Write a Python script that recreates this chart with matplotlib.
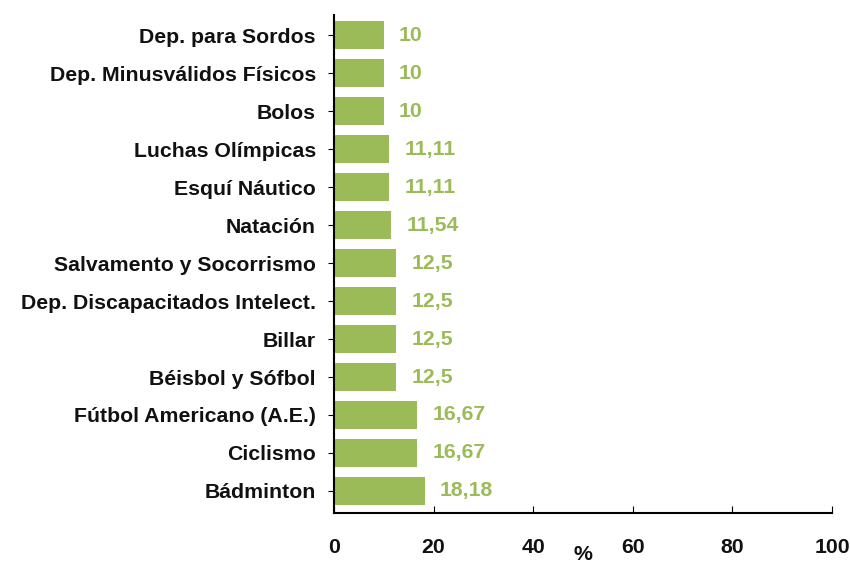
import matplotlib
matplotlib.use("Agg")
import matplotlib.pyplot as plt

categories = ["Bádminton", "Ciclismo", "Fútbol Americano (A.E.)", "Béisbol y Sófbol",
              "Billar", "Dep. Discapacitados Intelect.", "Salvamento y Socorrismo",
              "Natación", "Esquí Náutico", "Luchas Olímpicas", "Bolos",
              "Dep. Minusválidos Físicos", "Dep. para Sordos"]
values = [18.18, 16.67, 16.67, 12.5, 12.5, 12.5, 12.5, 11.54, 11.11, 11.11, 10, 10, 10]
labels = ["18,18", "16,67", "16,67", "12,5", "12,5", "12,5", "12,5", "11,54",
          "11,11", "11,11", "10", "10", "10"]
xticks = [0, 20, 40, 60, 80, 100]

plt.rcParams['font.family'] = ['Liberation Sans', 'DejaVu Sans']

fig = plt.figure(figsize=(8.5, 5.68), dpi=100)
ax = fig.add_axes([334/850, 1 - 513/568, (832-334)/850, (513-15)/568])

fs = 15.3
bar_color = "#9BBB59"
ypos = list(range(len(categories)))
ax.barh(ypos, values, height=0.74, color=bar_color)
for y, v, lab in zip(ypos, values, labels):
    ax.annotate(lab, (v, y), xytext=(11, 0), textcoords="offset points",
                va="center", ha="left", color="#9BBB59", fontsize=fs, fontweight="bold")

ax.set_xlim(0, 100)
ax.set_ylim(-0.58, 12.53)
ax.set_yticks(ypos)
ax.set_yticklabels(categories, fontsize=fs, fontweight="bold", color="#111111")
ax.set_xticks(xticks)
ax.set_xticklabels([str(t) for t in xticks], fontsize=fs, fontweight="bold", color="#111111")
ax.tick_params(axis="x", direction="in", length=5, pad=18)
ax.tick_params(axis="y", direction="out", length=4, pad=9)
ax.spines["top"].set_visible(False)
ax.spines["right"].set_visible(False)
ax.spines["left"].set_linewidth(1.5)
ax.spines["bottom"].set_linewidth(1.5)
ax.set_xlabel("%", fontsize=fs, fontweight="bold", color="#111111", labelpad=-9)

fig.savefig("out.png", dpi=100)
